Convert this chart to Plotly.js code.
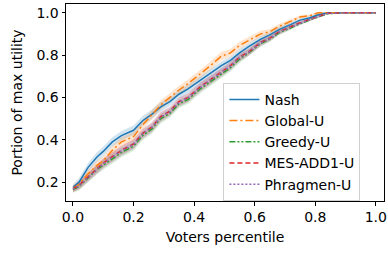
<!DOCTYPE html>
<html>
<head>
<meta charset="utf-8">
<script src="https://cdn.plot.ly/plotly-3.0.1.min.js"></script>
<style>html,body{margin:0;padding:0;background:#fff;}#chart{width:388px;height:253px;}</style>
</head>
<body>
<div id="chart"></div>
<script>
const percentile = [0, 0.02, 0.05, 0.08, 0.1, 0.13, 0.16, 0.2, 0.23, 0.26, 0.29, 0.32, 0.35, 0.38, 0.42, 0.45, 0.49, 0.52, 0.55, 0.58, 0.62, 0.65, 0.68, 0.72, 0.75, 0.78, 0.81, 0.84, 0.9, 1.0];
const nash =      [0.175, 0.2, 0.27, 0.32, 0.345, 0.39, 0.42, 0.445, 0.49, 0.52, 0.555, 0.58, 0.615, 0.64, 0.68, 0.71, 0.75, 0.775, 0.81, 0.84, 0.875, 0.895, 0.92, 0.945, 0.965, 0.975, 0.99, 1.0, 1.0, 1.0];
const globalU =   [0.17, 0.19, 0.24, 0.28, 0.30, 0.35, 0.39, 0.415, 0.47, 0.52, 0.565, 0.6, 0.635, 0.665, 0.71, 0.745, 0.795, 0.81, 0.845, 0.87, 0.9, 0.91, 0.935, 0.96, 0.98, 0.985, 1.0, 1.0, 1.0, 1.0];
const greedyU =   [0.165, 0.18, 0.22, 0.26, 0.28, 0.31, 0.34, 0.37, 0.42, 0.45, 0.50, 0.525, 0.57, 0.59, 0.64, 0.67, 0.71, 0.74, 0.78, 0.81, 0.855, 0.875, 0.905, 0.93, 0.95, 0.965, 0.98, 0.995, 1.0, 1.0];
const mesAdd1U =  [0.168, 0.185, 0.225, 0.265, 0.29, 0.32, 0.35, 0.38, 0.43, 0.46, 0.51, 0.535, 0.58, 0.6, 0.65, 0.68, 0.72, 0.75, 0.79, 0.815, 0.86, 0.88, 0.91, 0.935, 0.953, 0.968, 0.983, 0.997, 1.0, 1.0];
const phragmenU = [0.167, 0.183, 0.223, 0.263, 0.288, 0.318, 0.348, 0.378, 0.428, 0.458, 0.507, 0.533, 0.577, 0.598, 0.647, 0.678, 0.718, 0.748, 0.787, 0.813, 0.858, 0.878, 0.908, 0.933, 0.952, 0.967, 0.982, 0.996, 1.0, 1.0];
const spread =    [0.015, 0.018, 0.02, 0.022, 0.022, 0.022, 0.022, 0.022, 0.022, 0.022, 0.022, 0.02, 0.02, 0.02, 0.02, 0.02, 0.02, 0.018, 0.018, 0.016, 0.015, 0.013, 0.012, 0.01, 0.008, 0.007, 0.005, 0.003, 0.001, 0.0];
const seriesNames = ["Nash", "Global-U", "Greedy-U", "MES-ADD1-U", "Phragmen-U"];
const seriesValues = [nash, globalU, greedyU, mesAdd1U, phragmenU];
const xTicks = [0, 0.2, 0.4, 0.6, 0.8, 1.0];
const yTicks = [0.2, 0.4, 0.6, 0.8, 1.0];

const colors = ["#1f77b4", "#ff7f0e", "#2ca02c", "#d62728", "#9467bd"];
const fills = ["rgba(31,119,180,0.2)", "rgba(255,127,14,0.2)", "rgba(44,160,44,0.2)", "rgba(214,39,40,0.2)", "rgba(148,103,189,0.2)"];
const dashes = ["solid", "8px,3px,2px,3px", "6px,2px,2px,2px,2px,2px", "5px,3px", "2px,2px"];

const traces = [];
seriesValues.forEach((vals, i) => {
  traces.push({x: percentile, y: vals.map((v, k) => v - spread[k]), mode: "lines", line: {width: 0, color: colors[i]}, showlegend: false, hoverinfo: "skip"});
  traces.push({x: percentile, y: vals.map((v, k) => v + spread[k]), mode: "lines", line: {width: 0, color: colors[i]}, fill: "tonexty", fillcolor: fills[i], showlegend: false, hoverinfo: "skip"});
});
seriesValues.forEach((vals, i) => {
  traces.push({x: percentile, y: vals, mode: "lines", name: seriesNames[i], line: {color: colors[i], width: 1.5, dash: dashes[i]}});
});

const font = {family: "DejaVu Sans", size: 14, color: "#000"};
const layout = {
  width: 388, height: 253,
  margin: {l: 65.5, r: 4, t: 4, b: 52},
  paper_bgcolor: "#fff", plot_bgcolor: "#fff",
  font: font,
  showlegend: true,
  xaxis: {
    range: [-0.023, 1.027], tickvals: xTicks, ticktext: xTicks.map(v => v.toFixed(1)),
    ticks: "outside", ticklen: 3.5, tickwidth: 1, tickcolor: "#000",
    showline: true, linecolor: "#000", linewidth: 1, mirror: true, showgrid: false, zeroline: false,
    title: {text: "Voters percentile", font: font, standoff: 7}, automargin: false
  },
  yaxis: {
    range: [0.111, 1.041], tickvals: yTicks, ticktext: yTicks.map(v => v.toFixed(1)),
    ticks: "outside", ticklen: 3.5, tickwidth: 1, tickcolor: "#000",
    showline: true, linecolor: "#000", linewidth: 1, mirror: true, showgrid: false, zeroline: false,
    title: {text: "Portion of max utility", font: font, standoff: 10}, automargin: false
  },
  legend: {
    x: 0.495, y: 0.6, xanchor: "left", yanchor: "top", traceorder: "normal",
    bgcolor: "rgba(255,255,255,0.8)", bordercolor: "#d0d0d0", borderwidth: 1,
    font: font, tracegroupgap: 0, entrywidth: 140
  }
};
Plotly.newPlot("chart", traces, layout, {displayModeBar: false, staticPlot: true});
</script>
</body>
</html>
